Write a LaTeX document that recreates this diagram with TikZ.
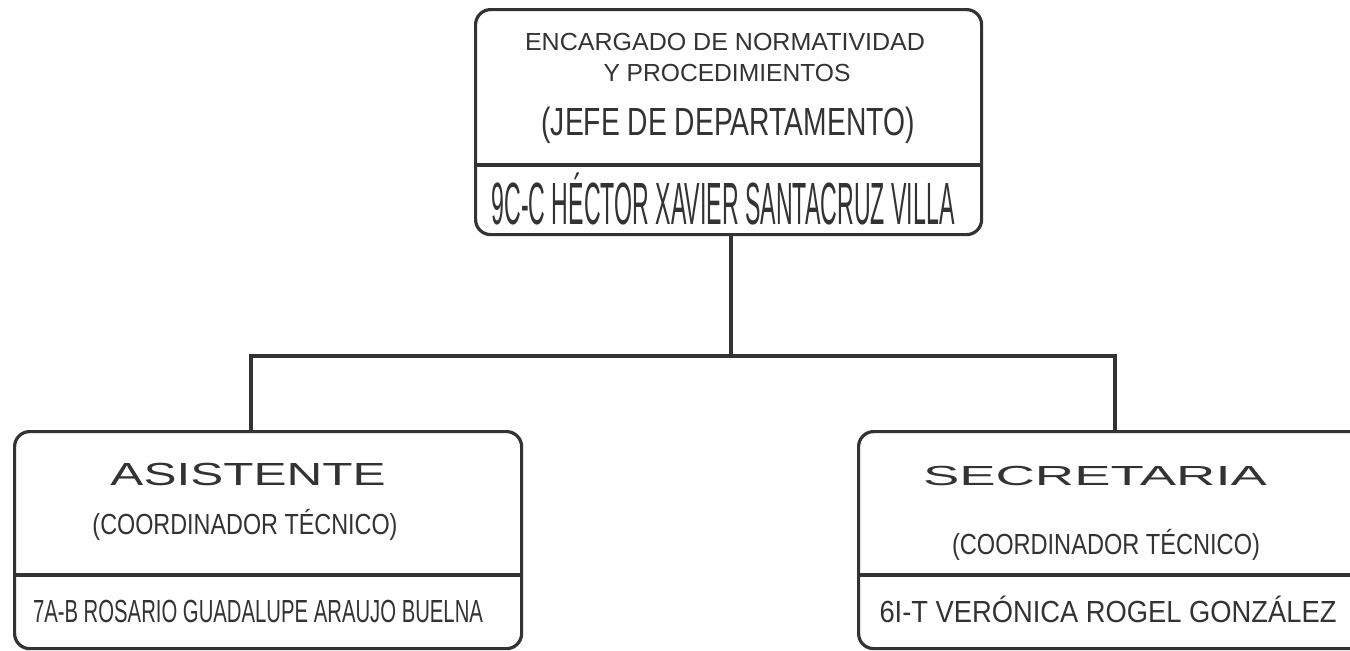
\documentclass[tikz,border=0pt]{standalone}
\usepackage{fontspec}
\setmainfont{Liberation Sans}
\usepackage{graphicx}
\definecolor{ink}{HTML}{333333}
% #1 width (pt), #2 cap height (pt), #3 text
\newcommand{\ft}[3]{\resizebox{#1pt}{#2pt}{\fontsize{20pt}{20pt}\selectfont\vphantom{H}\smash{#3}}}
\tikzset{
  box/.style={draw=ink, line width=1.6pt, rounded corners=7.5pt, rectangle, inner sep=0pt, anchor=north west},
  lbl/.style={inner sep=0pt, anchor=base, text=ink},
  link/.style={draw=ink, line width=2pt},
  divider/.style={draw=ink, line width=1.6pt}
}
\begin{document}
\begin{tikzpicture}[x=0.5pt, y=-0.5pt]
\useasboundingbox (0,0) rectangle (1350,650);
\fill[white] (0,0) rectangle (1350,650);
\clip (0,0) rectangle (1350,650);
% boxes
\node[box, minimum width=253pt, minimum height=112.5pt] (top) at (474,8) {};
\node[box, minimum width=253.5pt, minimum height=108.5pt] (left) at (13,430) {};
\node[box, minimum width=254pt, minimum height=108.5pt] (right) at (857,430) {};
% dividers
\coordinate (tdiv) at (0,165);
\coordinate (bdiv) at (0,575);
\draw[divider] (top.west |- tdiv) -- (top.east |- tdiv);
\draw[divider] (left.west |- bdiv) -- (left.east |- bdiv);
\draw[divider] (right.west |- bdiv) -- (right.east |- bdiv);
% connectors
\coordinate (bus) at (0,356);
\draw[link] ([xshift=1pt]top.south) -- ([xshift=1pt]top.south |- bus);
\draw[link, line cap=rect] ([xshift=-8.75pt]left.north |- bus) -- ([xshift=1pt]right.north |- bus);
\draw[link] ([xshift=-8.75pt]left.north |- bus) -- ([xshift=-8.75pt]left.north);
\draw[link] ([xshift=1pt]right.north |- bus) -- ([xshift=1pt]right.north);
% texts
\node[lbl] (t1) at (725,50) {\ft{200}{8.5}{ENCARGADO DE NORMATIVIDAD}};
\node[lbl] (t2) at (727,81) {\ft{123.5}{8.5}{Y PROCEDIMIENTOS}};
\node[lbl] (t3) at (728,135) {\ft{186.5}{13.5}{(JEFE DE DEPARTAMENTO)}};
\node[lbl] (t4) at (723,224) {\ft{231.5}{20.5}{9C-C HÉCTOR XAVIER SANTACRUZ VILLA}};
\node[lbl] (l1) at (248,485) {\ft{137.5}{11}{ASISTENTE}};
\node[lbl] (l2) at (245,534) {\ft{152.5}{10}{(COORDINADOR TÉCNICO)}};
\node[lbl] (l3) at (258,622) {\ft{225}{11}{7A-B ROSARIO GUADALUPE ARAUJO BUELNA}};
\node[lbl] (r1) at (1095,485) {\ft{172}{9.5}{SECRETARIA}};
\node[lbl] (r2) at (1106,554) {\ft{154}{10}{(COORDINADOR TÉCNICO)}};
\node[lbl] (r3) at (1108,622) {\ft{228.5}{10.5}{6I-T VERÓNICA ROGEL GONZÁLEZ}};
\end{tikzpicture}
\end{document}
